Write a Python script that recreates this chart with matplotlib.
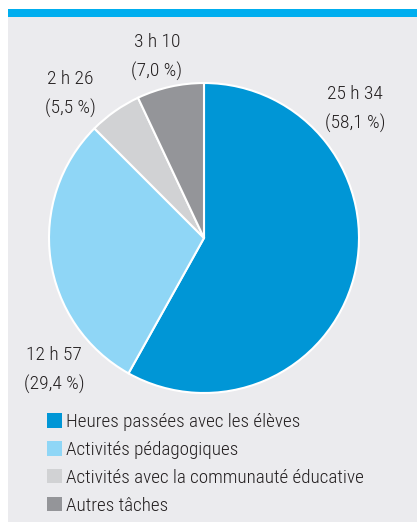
import matplotlib
matplotlib.use("Agg")
import matplotlib.pyplot as plt
from matplotlib.patches import Rectangle, Patch

categories = ["Heures passées avec les élèves", "Activités pédagogiques",
              "Activités avec la communauté éducative", "Autres tâches"]
percent = [58.1, 29.4, 5.5, 7.0]
durations = ["25 h 34", "12 h 57", "2 h 26", "3 h 10"]
colors = ["#0096D6", "#8FD6F6", "#D1D2D4", "#949599"]

plt.rcParams["font.family"] = ["Roboto Condensed", "DejaVu Sans"]
plt.rcParams["font.weight"] = 300

W, H = 417, 522
fig = plt.figure(figsize=(W / 100, H / 100), dpi=100)
fig.patch.set_facecolor("white")

# background panel and top bar
fig.add_artist(Rectangle((8 / W, 0), 1 - 8 / W, 1 - 17 / H, transform=fig.transFigure,
                         facecolor="#EBEBEE", edgecolor="none", zorder=0))
fig.add_artist(Rectangle((8 / W, 1 - 17 / H), 1 - 8 / W, 8 / H, transform=fig.transFigure,
                         facecolor="#00AEEF", edgecolor="none", zorder=0))

cx, cy, r = 204, 238, 155
ax = fig.add_axes([(cx - r) / W, 1 - (cy + r) / H, 2 * r / W, 2 * r / H])
ax.set_facecolor("none")
ax.pie(percent, colors=colors, startangle=90, counterclock=False, radius=1,
       wedgeprops=dict(edgecolor="white", linewidth=1.5))
ax.set_xlim(-1, 1)
ax.set_ylim(-1, 1)
ax.set_aspect("auto")
ax.axis("off")

label_pos = [(355, 109), (54, 370), (70, 94), (157, 57)]
for (px, py), d, p in zip(label_pos, durations, percent):
    txt = f"{d}\n({p:.1f} %)".replace(".", ",")
    fig.text(px / W, 1 - py / H, txt, ha="center", va="center", fontsize=14,
             color="#231F20", linespacing=1.7)

handles = [Patch(facecolor=c, edgecolor="none") for c in colors]
leg = fig.legend(handles, categories, loc="upper left",
                 bbox_to_anchor=(47 / W, 1 - 413 / H), frameon=False,
                 fontsize=13.8, handlelength=0.78, handleheight=0.78,
                 handletextpad=0.22, labelspacing=0.52, borderpad=0,
                 borderaxespad=0)
for t in leg.get_texts():
    t.set_color("#231F20")

fig.savefig("out.png", dpi=100)
